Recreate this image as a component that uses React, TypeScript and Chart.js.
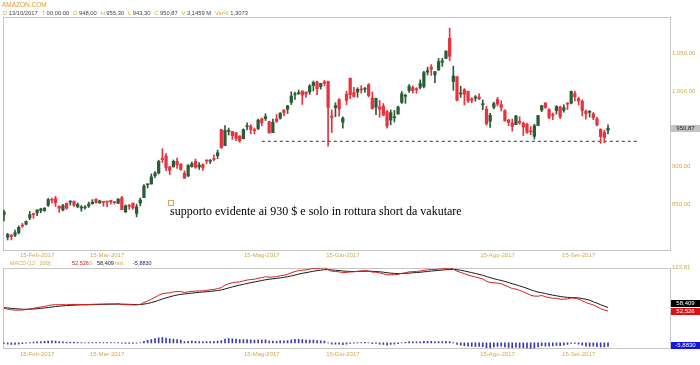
import React, { useEffect, useRef } from 'react';
import { Chart, registerables } from 'chart.js';

Chart.register(...registerables);

// ---------- data ----------
const MONTH_NAMES = ['Feb', 'Mar', 'Apr', 'Mag', 'Giu', 'Lug', 'Ago', 'Set'];
const TRADING_DAYS = [
  [2, 3, 6, 7, 8, 9, 10, 13, 14, 15, 16, 17, 21, 22, 23, 24, 27, 28],
  [1, 2, 3, 6, 7, 8, 9, 10, 13, 14, 15, 16, 17, 20, 21, 22, 23, 24, 27, 28, 29, 30, 31],
  [3, 4, 5, 6, 7, 10, 11, 12, 13, 17, 18, 19, 20, 21, 24, 25, 26, 27, 28],
  [1, 2, 3, 4, 5, 8, 9, 10, 11, 12, 15, 16, 17, 18, 19, 22, 23, 24, 25, 26, 30, 31],
  [1, 2, 5, 6, 7, 8, 9, 12, 13, 14, 15, 16, 19, 20, 21, 22, 23, 26, 27, 28, 29, 30],
  [3, 5, 6, 7, 10, 11, 12, 13, 14, 17, 18, 19, 20, 21, 24, 25, 26, 27, 28, 31],
  [1, 2, 3, 4, 7, 8, 9, 10, 11, 14, 15, 16, 17, 18, 21, 22, 23, 24, 25, 28, 29, 30, 31],
  [1, 5, 6, 7, 8, 11, 12, 13, 14, 15, 18, 19, 20, 21, 22, 25, 26, 27],
];
const TICK_DAY = 15;

const OPEN = [
  836.6, 806.7, 809.0, 809.3, 812.7, 821.6, 823.8, 832.0, 837.0, 838.8, 841.8, 842.0, 848.8, 856.0, 857.6, 847.7, 842.6, 851.5,
  853.0, 853.8, 847.2, 845.2, 845.5, 848.0, 851.0, 857.0, 851.8, 853.6, 854.3, 855.2, 853.5, 851.5, 858.8, 840.4, 848.2, 851.7, 838.1, 851.8, 859.0, 876.0, 877.0,
  888.0, 891.5, 910.8, 913.8, 899.7, 899.6, 907.0, 903.1, 891.5, 887.5, 900.0, 907.0, 899.5, 902.7, 908.7, 907.0, 910.3, 914.4, 948.8,
  927.8, 946.6, 946.5, 944.8, 940.5, 937.0, 952.8, 953.5, 948.0, 950.3, 963.3, 963.6, 959.6, 944.8, 962.8, 964.0, 975.0, 976.0, 984.9, 995.0, 996.5, 1000.0,
  998.6, 998.7, 1007.2, 1012.0, 1005.9, 1012.1, 1012.5, 967.0, 978.0, 988.6, 958.7, 996.0, 1017.0, 998.0, 998.7, 1002.2, 1002.5, 1008.5, 990.7, 978.6, 979.0, 980.1,
  972.8, 961.5, 964.7, 969.6, 985.0, 993.0, 1000.7, 1004.6, 1002.4, 1004.7, 1006.0, 1025.0, 1031.6, 1021.3, 1028.3, 1038.1, 1043.2, 1069.6, 1012.6, 1019.0,
  996.1, 1001.8, 999.5, 989.7, 990.7, 992.0, 982.0, 976.0, 960.0, 978.4, 988.9, 982.0, 974.0, 961.5, 957.6, 955.5, 960.0, 957.4, 956.0, 946.5, 940.0, 954.2, 974.7,
  984.2, 975.4, 968.3, 974.0, 979.0, 974.4, 983.3, 984.0, 996.8, 990.0, 986.5, 973.5, 971.8, 970.0, 963.3, 949.3, 945.4, 948.0,
];
const HIGH = [
  842.5, 811.8, 810.6, 816.2, 821.5, 825.0, 828.2, 840.8, 838.4, 843.0, 845.0, 845.8, 857.9, 858.4, 860.9, 848.0, 850.0, 852.0,
  855.0, 854.8, 851.9, 848.5, 848.5, 853.1, 856.4, 857.4, 855.7, 853.7, 854.5, 855.5, 853.8, 857.8, 860.8, 849.4, 850.0, 851.8, 850.3, 858.5, 876.4, 877.1, 890.4,
  893.5, 908.5, 923.7, 917.2, 900.1, 908.8, 911.2, 904.1, 894.5, 902.4, 906.0, 910.0, 905.3, 903.6, 909.0, 909.5, 915.7, 921.9, 949.6,
  954.4, 951.0, 946.5, 945.0, 940.8, 950.0, 957.9, 955.5, 951.0, 962.8, 964.0, 970.0, 960.0, 962.8, 968.9, 971.4, 975.2, 981.0, 999.0, 998.7, 1001.2, 1000.1,
  999.0, 1008.5, 1013.3, 1013.0, 1010.3, 1013.9, 1013.0, 975.0, 984.5, 990.0, 965.7, 999.8, 1017.0, 1004.9, 1004.3, 1007.0, 1004.6, 1009.8, 998.8, 990.7, 987.6, 983.5,
  974.5, 975.0, 974.4, 980.1, 999.4, 996.0, 1008.6, 1006.9, 1004.5, 1014.8, 1026.0, 1031.6, 1035.0, 1026.1, 1043.0, 1043.3, 1053.2, 1083.3, 1032.9, 1019.0,
  1006.4, 1003.2, 1000.0, 990.9, 994.1, 996.2, 988.0, 979.9, 970.4, 985.5, 991.7, 987.0, 975.5, 962.6, 962.9, 967.9, 966.0, 959.0, 957.6, 953.0, 956.0, 967.8, 981.0,
  984.5, 976.8, 971.0, 980.6, 980.0, 981.9, 984.7, 1000.0, 999.8, 992.0, 988.5, 974.9, 974.2, 971.5, 965.3, 950.0, 948.1, 955.3,
];
const LOW = [
  828.3, 803.0, 803.0, 807.5, 811.0, 819.7, 822.9, 829.8, 831.5, 835.0, 839.0, 840.8, 847.3, 852.0, 847.2, 839.4, 841.4, 843.5,
  849.0, 847.3, 845.5, 841.0, 843.8, 846.0, 850.3, 851.7, 851.7, 847.6, 847.1, 850.5, 850.4, 851.0, 843.2, 839.1, 843.5, 843.5, 833.5, 848.0, 859.0, 871.7, 877.0,
  885.4, 890.3, 905.6, 894.5, 889.4, 899.5, 897.5, 895.3, 884.5, 887.2, 899.4, 897.7, 896.3, 895.0, 903.8, 904.0, 907.6, 910.6, 924.3,
  927.8, 941.8, 935.9, 934.2, 932.2, 936.5, 948.6, 943.4, 943.3, 949.0, 954.2, 960.9, 944.1, 944.8, 958.6, 962.9, 966.9, 970.2, 982.1, 989.0, 995.5, 982.2,
  991.4, 995.5, 1000.0, 995.1, 1002.5, 1006.9, 927.0, 945.0, 966.1, 966.7, 950.9, 982.0, 989.9, 992.0, 991.7, 997.2, 998.0, 992.0, 976.0, 968.8, 965.3, 967.6,
  950.9, 955.3, 959.0, 969.4, 983.5, 983.7, 998.1, 997.2, 996.9, 1002.8, 1004.0, 1021.2, 1020.6, 1011.0, 1026.9, 1032.5, 1043.2, 1040.2, 1001.0, 987.0,
  991.6, 981.7, 985.0, 984.4, 986.5, 988.6, 975.3, 954.7, 952.0, 976.2, 980.0, 973.6, 960.0, 954.1, 947.0, 955.5, 956.0, 941.1, 943.8, 942.3, 936.3, 954.2, 972.8,
  976.9, 963.5, 962.0, 969.4, 963.5, 972.0, 975.5, 983.0, 987.0, 981.5, 967.0, 962.7, 965.5, 962.0, 954.0, 930.8, 931.6, 943.3,
];
const CLOSE = [
  840.0, 810.2, 807.6, 812.5, 819.7, 821.4, 827.5, 836.5, 836.4, 842.7, 844.1, 845.1, 856.4, 855.6, 852.2, 845.2, 848.6, 845.0,
  853.1, 848.9, 849.9, 846.6, 846.0, 850.5, 853.0, 852.5, 854.6, 852.5, 853.0, 853.4, 852.3, 857.0, 843.2, 848.1, 847.4, 845.6, 846.8, 856.0, 874.3, 876.3, 886.5,
  891.5, 906.8, 909.3, 898.3, 894.9, 907.0, 902.4, 896.2, 884.7, 902.0, 903.8, 899.2, 902.1, 898.5, 907.4, 907.6, 909.3, 918.4, 925.0,
  948.2, 946.9, 941.0, 937.5, 934.2, 949.0, 952.8, 949.0, 947.6, 961.4, 958.0, 966.1, 944.8, 958.5, 959.8, 970.7, 971.5, 980.4, 993.4, 995.8, 996.7, 994.6,
  996.0, 1006.7, 1011.3, 1003.0, 1010.1, 1010.3, 978.3, 964.9, 980.8, 976.5, 964.2, 987.7, 995.2, 992.6, 1002.2, 1001.3, 1003.7, 994.0, 976.8, 990.3, 975.9, 968.0,
  953.7, 971.4, 965.1, 978.8, 996.5, 994.1, 1006.5, 1000.6, 1001.8, 1010.0, 1024.4, 1026.9, 1028.7, 1025.7, 1039.0, 1039.9, 1052.8, 1046.0, 1020.0, 987.8,
  996.2, 995.9, 986.9, 987.6, 992.3, 989.8, 982.0, 956.9, 968.0, 983.3, 982.7, 978.2, 960.6, 958.5, 953.3, 966.9, 958.0, 952.5, 945.3, 946.0, 954.1, 967.6, 980.6,
  978.3, 965.3, 967.8, 979.5, 965.9, 978.0, 982.6, 999.6, 992.2, 986.8, 974.2, 969.9, 973.2, 964.7, 955.1, 939.8, 938.6, 950.87,
];

const MACD = [
  57, 55.5, 54.5, 54, 54, 54.2, 54.8, 56, 57, 58.2, 59.2, 60, 61.5, 62.5, 63, 62.8, 63, 62.8,
  63.3, 63.3, 63.4, 63.2, 63, 63.2, 63.6, 63.7, 64, 64, 64.1, 64.2, 64.1, 64.6, 63.2, 63, 62.8, 62.5, 62.5, 63.5, 66.5, 69, 72,
  75, 78.5, 81, 82, 82.5, 84, 84.5, 84.5, 83, 84, 85, 85.2, 85.6, 85.6, 86.5, 87.3, 88, 89.5, 91,
  95, 97.5, 99, 100, 100.5, 102, 103.5, 104.3, 104.8, 106.5, 107.5, 109, 108, 108.5, 109, 110.5, 111.5, 113, 115.5, 117.5, 119, 119.8,
  120.3, 121.5, 122.6, 122.7, 123.3, 123.81, 120.5, 118, 117.6, 117, 115.5, 116, 116.8, 117, 118, 118.5, 119, 118.4, 116.5, 116.5, 115.2, 113.8,
  112, 112.3, 112.2, 113, 114.5, 115.5, 117, 117.3, 117.6, 118.3, 119.5, 120.3, 120.8, 120.8, 121.5, 122, 123, 123.2, 121.5, 118,
  116, 114, 111.8, 110, 108.6, 107, 105.3, 101.5, 99.5, 99, 98.3, 97.3, 94.7, 92.2, 89.5, 88.6, 86.5, 84, 81.5, 78.5, 77, 77, 78,
  76, 74.5, 73.5, 73.5, 72, 72, 72.5, 74, 73.5, 72, 69.5, 66.5, 64.5, 62.5, 59.5, 56.5, 54, 52.526,
];
const SIGNAL = [
  58.0, 57.5, 56.9, 56.3, 55.9, 55.5, 55.4, 55.5, 55.8, 56.3, 56.9, 57.5, 58.3, 59.1, 59.9, 60.5, 61.0, 61.4,
  61.8, 62.1, 62.4, 62.6, 62.7, 62.8, 62.9, 63.1, 63.3, 63.4, 63.6, 63.7, 63.8, 64.0, 63.8, 63.7, 63.5, 63.3, 63.1, 63.2, 63.9, 64.9, 66.3,
  68.0, 70.1, 72.3, 74.2, 75.9, 77.5, 78.9, 80.0, 80.6, 81.3, 82.0, 82.7, 83.3, 83.8, 84.3, 84.9, 85.5, 86.3, 87.2,
  88.8, 90.5, 92.2, 93.8, 95.1, 96.5, 97.9, 99.2, 100.3, 101.5, 102.7, 104.0, 104.8, 105.5, 106.2, 107.1, 108.0, 109.0, 110.3, 111.7, 113.2, 114.5,
  115.7, 116.8, 118.0, 118.9, 119.8, 120.6, 120.6, 120.1, 119.6, 119.1, 118.4, 117.9, 117.7, 117.5, 117.6, 117.8, 118.0, 118.1, 117.8, 117.5, 117.1, 116.4,
  115.5, 114.9, 114.4, 114.1, 114.2, 114.4, 114.9, 115.4, 115.8, 116.3, 117.0, 117.6, 118.3, 118.8, 119.3, 119.9, 120.5, 121.0, 121.1, 120.5,
  119.6, 118.5, 117.1, 115.7, 114.3, 112.8, 111.3, 109.4, 107.4, 105.7, 104.2, 102.8, 101.2, 99.4, 97.4, 95.7, 93.8, 91.9, 89.8, 87.5, 85.4, 83.7, 82.6,
  81.3, 79.9, 78.6, 77.6, 76.5, 75.6, 75.0, 74.8, 74.5, 74.0, 73.1, 71.8, 70.3, 67.8, 65.5, 62.9, 60.5, 58.409,
];
const HIST = [
  -1.0, -2.0, -2.4, -2.3, -1.9, -1.3, -0.6, 0.5, 1.2, 1.9, 2.3, 2.5, 3.2, 3.4, 3.1, 2.3, 2.0, 1.4,
  1.5, 1.2, 1.0, 0.6, 0.3, 0.4, 0.7, 0.6, 0.7, 0.6, 0.5, 0.5, 0.3, 0.6, -0.6, -0.7, -0.7, -0.8, -0.6, 0.3, 2.6, 4.1, 5.7,
  7.0, 8.4, 8.7, 7.8, 6.6, 6.5, 5.6, 4.5, 2.4, 2.7, 3.0, 2.5, 2.3, 1.8, 2.2, 2.4, 2.5, 3.2, 3.8,
  6.2, 7.0, 6.8, 6.2, 5.4, 5.5, 5.6, 5.1, 4.5, 5.0, 4.8, 5.0, 3.2, 3.0, 2.8, 3.4, 3.5, 4.0, 5.2, 5.8, 5.8, 5.3,
  4.6, 4.7, 4.6, 3.8, 3.5, 3.2, -0.1, -2.1, -2.0, -2.1, -2.9, -1.9, -0.9, -0.5, 0.4, 0.7, 1.0, 0.3, -1.3, -1.0, -1.9, -2.6,
  -3.5, -2.6, -2.2, -1.1, 0.3, 1.1, 2.1, 1.9, 1.8, 2.0, 2.5, 2.7, 2.5, 2.0, 2.2, 2.1, 2.5, 2.2, 0.4, -2.5,
  -3.6, -4.5, -5.3, -5.7, -5.7, -5.8, -6.0, -7.9, -7.9, -6.7, -5.9, -5.5, -6.5, -7.2, -7.9, -7.1, -7.3, -7.9, -8.3, -9.0, -8.4, -6.7, -4.6,
  -5.3, -5.4, -5.1, -4.1, -4.5, -3.6, -2.5, -0.8, -1.0, -2.0, -3.6, -5.3, -5.8, -5.3, -6.0, -6.4, -6.5, -5.883,
];

const PRICE_TICKS = [850, 900, 1000, 1050];
const SUPPORT_LEVEL = 933.5;
const SUPPORT_FROM = 70;
const SUPPORT_TO = 172.5;
const TITLE = 'AMAZON.COM';
const HEADER_KEYS = ['D', 'T', 'O', 'H', 'L', 'C', 'V', 'Var%'];
const HEADER_FIXED = ['13/10/2017', '00:00:00', '3,1459 M', '1,3073'];
const NOTE_TEXT = 'supporto evidente ai 930 $ e solo in rottura short da vakutare';
const NOTE_AT = { x: 44.4, y: 856 };
const MACD_LABEL = 'MACD';
const MACD_PARAMS = '(12 , 200):';

// ---------- style ----------
const GOLD = '#d4a84c';
const ORANGE = '#e39a2e';
const FRAME = '#c6c6c6';
const UP = '#2c5c36';
const DOWN = '#e8323f';
const SANS = 'Arial, "Liberation Sans", sans-serif';
const X_MIN = -0.27;
const X_MAX = 181.1;

function itNum(v: number, dec: number): string {
  const s = Math.abs(v).toFixed(dec);
  const parts = s.split('.');
  const intG = parts[0].replace(/\B(?=(\d{3})+(?!\d))/g, '.');
  return (v < 0 ? '-' : '') + intG + (parts[1] ? ',' + parts[1] : '');
}

const DATES: { day: number; month: number }[] = [];
TRADING_DAYS.forEach((days, m) => days.forEach((d) => DATES.push({ day: d, month: m })));
const TICK_IDX: number[] = [];
DATES.forEach((d, i) => { if (d.day === TICK_DAY) TICK_IDX.push(i); });
const dateLabel = (i: number) => {
  const d = DATES[Math.round(i)];
  return d ? `${d.day}-${MONTH_NAMES[d.month]}-2017` : '';
};

const framePlugin = {
  id: 'frame',
  beforeDatasetsDraw(chart: any) {
    const { ctx, chartArea: a } = chart;
    ctx.save();
    ctx.strokeStyle = FRAME;
    ctx.lineWidth = 1;
    ctx.strokeRect(Math.round(a.left) + 0.5, Math.round(a.top) + 0.5, Math.round(a.right - a.left) - 1, Math.round(a.bottom - a.top) - 1);
    ctx.restore();
  },
};

function valueBox(ctx: any, cy: number, text: string, bg: string, fg: string) {
  ctx.fillStyle = bg;
  ctx.fillRect(671, Math.round(cy - 3.5), 29, 7);
  ctx.fillStyle = fg;
  ctx.font = `6px ${SANS}`;
  ctx.textAlign = 'center';
  ctx.textBaseline = 'middle';
  ctx.fillText(text, 685.5, cy + 0.3);
}

const mainPlugin = {
  id: 'mainDecor',
  afterDraw(chart: any) {
    const { ctx } = chart;
    const xs = chart.scales.x;
    const ys = chart.scales.y;
    const last = CLOSE.length - 1;
    ctx.save();
    // title
    ctx.font = `6.5px ${SANS}`;
    ctx.textBaseline = 'middle';
    ctx.textAlign = 'left';
    ctx.fillStyle = ORANGE;
    ctx.fillText(TITLE, 2, 5);
    // header line
    const vals = [HEADER_FIXED[0], HEADER_FIXED[1], itNum(OPEN[last], 2), itNum(HIGH[last], 2), itNum(LOW[last], 2), itNum(CLOSE[last], 2), HEADER_FIXED[2], HEADER_FIXED[3]];
    ctx.font = `5.8px ${SANS}`;
    let natural = 0;
    HEADER_KEYS.forEach((k, i) => { natural += ctx.measureText(k).width + 1.5 + ctx.measureText(vals[i]).width; });
    const gap = Math.max(3, (248 - 3 - natural) / (HEADER_KEYS.length - 1));
    let x = 3;
    HEADER_KEYS.forEach((k, i) => {
      ctx.fillStyle = GOLD;
      ctx.fillText(k, x, 13.5);
      x += ctx.measureText(k).width + 1.5;
      ctx.fillStyle = '#444';
      ctx.fillText(vals[i], x, 13.5);
      x += ctx.measureText(vals[i]).width + gap;
    });
    // annotation
    const px = xs.getPixelForValue(NOTE_AT.x);
    const py = ys.getPixelForValue(NOTE_AT.y);
    ctx.strokeStyle = GOLD;
    ctx.lineWidth = 1;
    ctx.strokeRect(Math.round(px) + 0.5, Math.round(py) + 0.5, 5, 5);
    ctx.fillStyle = '#000';
    ctx.font = '12px "Liberation Serif", "Times New Roman", serif';
    ctx.textBaseline = 'alphabetic';
    ctx.fillText(NOTE_TEXT, px + 2.5, py + 15);
    // last price box
    valueBox(ctx, ys.getPixelForValue(CLOSE[last]), itNum(CLOSE[last], 2), '#c4c4c4', '#222');
    ctx.restore();
  },
};

const macdPlugin = {
  id: 'macdDecor',
  afterDraw(chart: any) {
    const { ctx } = chart;
    const ys = chart.scales.y;
    const last = MACD.length - 1;
    ctx.save();
    ctx.font = `5.5px ${SANS}`;
    ctx.textBaseline = 'middle';
    ctx.textAlign = 'left';
    const items = [
      { t: MACD_LABEL, x: 10, c: GOLD },
      { t: MACD_PARAMS, x: 27, c: GOLD },
      { t: itNum(MACD[last], 3), x: 72, c: '#d42020' },
      { t: 'S', x: 89, c: GOLD },
      { t: itNum(SIGNAL[last], 3), x: 97, c: '#222' },
      { t: 'hist', x: 115, c: GOLD },
      { t: itNum(HIST[last], 4), x: 133, c: '#20206a' },
    ];
    items.forEach((it) => { ctx.fillStyle = it.c; ctx.fillText(it.t, it.x, 5); });
    const redY = ys.getPixelForValue(MACD[last]);
    let blackY = ys.getPixelForValue(SIGNAL[last]);
    if (redY - blackY < 7.5) blackY = redY - 7.5;
    valueBox(ctx, blackY, itNum(SIGNAL[last], 3), '#000', '#fff');
    valueBox(ctx, redY, itNum(MACD[last], 3), '#e01010', '#fff');
    valueBox(ctx, Math.min(ys.getPixelForValue(HIST[last]), chart.chartArea.bottom - 3.5), itNum(HIST[last], 4), '#1515e0', '#fff');
    ctx.restore();
  },
};

const xAxis = (height: number, pad: number) => ({
  type: 'linear',
  min: X_MIN,
  max: X_MAX,
  offset: false,
  grid: { display: false, drawTicks: false, offset: false },
  border: { display: false },
  ticks: {
    autoSkip: false,
    maxRotation: 0,
    padding: pad,
    color: GOLD,
    font: { size: 6, family: SANS },
    callback: (v: any) => dateLabel(Number(v)),
  },
  afterBuildTicks: (s: any) => { s.ticks = TICK_IDX.map((v) => ({ value: v })); },
  afterFit: (s: any) => { s.height = height; },
});

export default function App() {
  const ref1 = useRef<HTMLCanvasElement>(null);
  const ref2 = useRef<HTMLCanvasElement>(null);

  useEffect(() => {
    const idx = CLOSE.map((_, i) => i);
    const colors = idx.map((i) => (CLOSE[i] >= OPEN[i] ? UP : DOWN));

    const c1 = new Chart(ref1.current as HTMLCanvasElement, {
      type: 'bar',
      data: {
        datasets: [
          {
            type: 'line',
            data: [{ x: SUPPORT_FROM, y: SUPPORT_LEVEL }, { x: SUPPORT_TO, y: SUPPORT_LEVEL }],
            borderColor: '#333',
            borderWidth: 1,
            borderDash: [3, 3],
            pointRadius: 0,
            order: 3,
          } as any,
          {
            data: idx.map((i) => ({ x: i, y: [LOW[i], HIGH[i]] })),
            backgroundColor: colors,
            barThickness: 1,
            grouped: false,
            order: 2,
          } as any,
          {
            data: idx.map((i) => ({ x: i, y: [OPEN[i], CLOSE[i]] })),
            backgroundColor: colors,
            barThickness: 2.6,
            minBarLength: 1,
            grouped: false,
            order: 1,
          } as any,
        ],
      },
      options: {
        responsive: false,
        animation: false,
        devicePixelRatio: 1,
        layout: { padding: { left: 3, top: 17, right: 0, bottom: 0 } },
        plugins: { legend: { display: false }, tooltip: { enabled: false } },
        scales: {
          x: xAxis(11, 1) as any,
          y: {
            position: 'right',
            min: 788.4,
            max: 1097.9,
            beginAtZero: false,
            grid: { display: false, drawTicks: false },
            border: { display: false },
            ticks: { padding: 1, color: GOLD, font: { size: 6, family: SANS }, callback: (v: any) => itNum(Number(v), 2) },
            afterBuildTicks: (s: any) => { s.ticks = PRICE_TICKS.map((v) => ({ value: v })); },
            afterFit: (s: any) => { s.width = 29; },
          } as any,
        },
      },
      plugins: [framePlugin, mainPlugin],
    });

    const c2 = new Chart(ref2.current as HTMLCanvasElement, {
      type: 'line',
      data: {
        datasets: [
          {
            type: 'bar',
            data: idx.map((i) => ({ x: i, y: HIST[i] })),
            backgroundColor: '#3b3bb0',
            barThickness: 1,
            grouped: false,
            order: 3,
          } as any,
          {
            data: idx.map((i) => ({ x: i, y: SIGNAL[i] })),
            borderColor: '#1a1a1a',
            borderWidth: 1,
            pointRadius: 0,
            tension: 0,
            order: 2,
          },
          {
            data: idx.map((i) => ({ x: i, y: MACD[i] })),
            borderColor: '#d42020',
            borderWidth: 1,
            pointRadius: 0,
            tension: 0,
            order: 1,
          },
        ],
      },
      options: {
        responsive: false,
        animation: false,
        devicePixelRatio: 1,
        layout: { padding: { left: 3, top: 9.7, right: 0, bottom: 0 } },
        plugins: { legend: { display: false }, tooltip: { enabled: false } },
        scales: {
          x: xAxis(16, 1.4) as any,
          y: {
            position: 'right',
            min: -10,
            max: 123.81,
            beginAtZero: false,
            grid: { display: false, drawTicks: false },
            border: { display: false },
            ticks: { padding: 1, color: GOLD, font: { size: 6, family: SANS }, callback: (v: any) => itNum(Number(v), 2) },
            afterBuildTicks: (s: any) => { s.ticks = [{ value: 123.81 }]; },
            afterFit: (s: any) => { s.width = 29; },
          } as any,
        },
      },
      plugins: [framePlugin, macdPlugin],
    });

    return () => {
      c1.destroy();
      c2.destroy();
    };
  }, []);

  return (
    <div style={{ position: 'absolute', left: 0, top: 0, width: 700, height: 365, background: '#fff', overflow: 'hidden' }}>
      <canvas ref={ref1} width={700} height={262} style={{ position: 'absolute', left: 0, top: 0 }} />
      <canvas ref={ref2} width={700} height={107} style={{ position: 'absolute', left: 0, top: 258 }} />
    </div>
  );
}
